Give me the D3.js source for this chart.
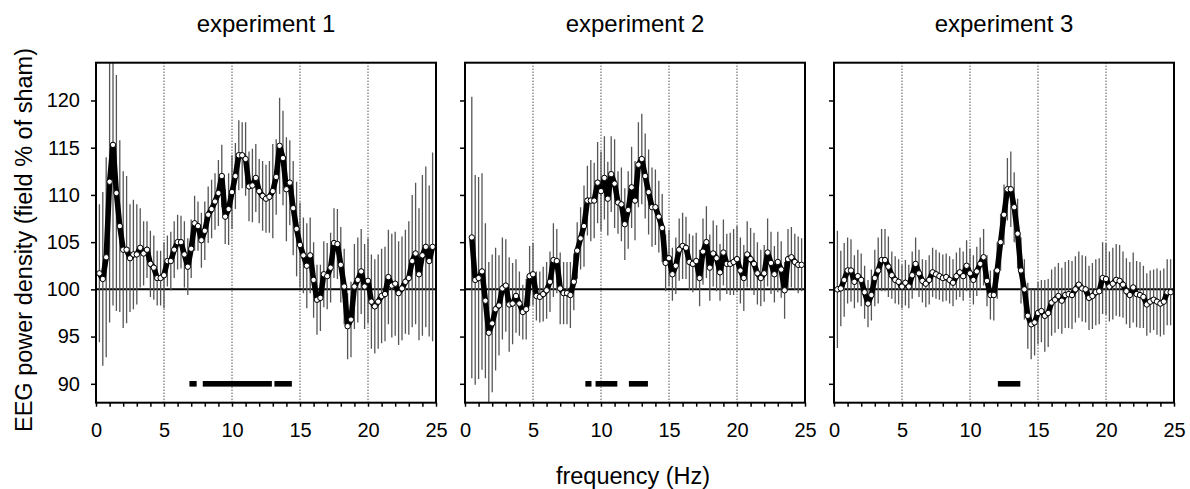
<!DOCTYPE html>
<html><head><meta charset="utf-8">
<script src="https://cdn.jsdelivr.net/npm/d3@7"></script>
<style>
body{margin:0;background:#fff}
svg{display:block}
text{font-family:"Liberation Sans",Arial,Helvetica,sans-serif;fill:#000}
</style>
</head><body>
<svg id="c" width="1190" height="489"></svg>
<script>
// frequency bins (Hz)
const freqs = [0.25,0.5,0.75,1,1.25,1.5,1.75,2,2.25,2.5,2.75,3,3.25,3.5,3.75,4,4.25,4.5,4.75,5,
5.25,5.5,5.75,6,6.25,6.5,6.75,7,7.25,7.5,7.75,8,8.25,8.5,8.75,9,9.25,9.5,9.75,10,
10.25,10.5,10.75,11,11.25,11.5,11.75,12,12.25,12.5,12.75,13,13.25,13.5,13.75,14,14.25,14.5,14.75,15,
15.25,15.5,15.75,16,16.25,16.5,16.75,17,17.25,17.5,17.75,18,18.25,18.5,18.75,19,19.25,19.5,19.75,20,
20.25,20.5,20.75,21,21.25,21.5,21.75,22,22.25,22.5,22.75,23,23.25,23.5,23.75,24,24.25,24.5,24.75];
const freqs2 = freqs.slice(1);

const exp1Mean = [101.7,101.1,103.4,111.4,115.3,110.2,106.7,104.2,104.2,103.3,103.7,103.7,104.4,103.8,104.2,102.7,102.3,101.2,101.2,101.5,
103.0,103.0,104.2,105.0,105.0,103.7,102.4,104.3,107.0,106.7,105.2,106.2,107.9,108.5,109.3,110.2,112.0,107.7,108.5,110.3,
112.0,114.2,114.2,113.8,110.9,111.0,111.8,110.4,109.9,109.6,109.8,110.4,111.9,115.2,113.9,110.6,111.3,108.6,106.4,104.7,
103.6,102.5,103.6,101.0,98.9,99.1,101.6,101.4,102.3,104.9,104.8,102.6,100.3,96.1,96.8,100.3,101.0,101.9,100.3,100.9,
98.7,98.2,98.7,99.3,99.5,101.3,100.4,100.6,99.6,100.1,100.8,101.2,103.0,103.8,101.6,103.6,104.5,103.0,104.5];
const exp1Err = [7.3,9.2,10.6,14.9,17,12.5,9.1,8.3,7.8,5.7,5.8,5.3,4.2,3.4,3.0,3.5,3.4,2.9,2.9,3.5,
2.7,3.1,3.0,2.9,2.8,3.5,3.0,3.1,2.9,2.6,2.9,3.1,3.0,3.1,3.0,3.5,3.3,2.9,3.8,3.9,
3.5,3.7,3.5,3.9,3.7,3.9,3.6,3.4,3.7,3.6,3.8,5.0,4.0,5.1,5.0,5.5,4.5,5.0,5.0,4.5,
4.0,4.5,4.0,4.0,3.7,3.5,3.5,3.5,3.7,3.7,3.7,4.0,4.0,3.5,4.0,4.5,4.5,4.5,4.5,4.5,
5.0,5.0,5.0,5.0,5.0,5.0,5.5,5.5,5.5,5.5,5.5,6.0,7.0,7.5,7.0,8.5,8.5,8.0,10.0];
const exp1Sig = [[6.87,7.4],[7.85,12.93],[13.12,14.4]];

const exp2Mean = [105.5,101.0,101.2,101.9,98.8,95.4,96.4,97.9,98.3,100.1,100.4,98.4,98.5,99.3,98.5,97.6,97.9,101.4,101.6,
99.3,99.2,99.5,99.9,100.8,103.1,103.0,100.1,99.6,99.6,99.4,100.8,104.1,105.4,106.7,109.4,109.4,109.4,111.3,110.4,
111.8,109.6,112.2,111.2,109.2,109.0,106.9,108.4,110.8,109.4,113.2,113.8,112.0,110.3,108.7,108.7,107.7,106.5,102.8,103.3,
101.6,102.5,104.2,104.6,104.4,102.9,102.7,103.0,101.2,104.0,105.0,102.3,103.8,103.3,101.8,103.9,102.7,102.7,102.9,103.2,
102.0,101.2,103.7,103.2,102.7,101.7,101.2,101.7,103.9,102.8,101.6,102.9,102.1,99.9,103.2,103.4,102.9,102.6,102.6];
const exp2Err = [14.9,11.1,10.7,10.4,8.2,7.5,7.3,6.5,5.3,5.4,4.9,5.0,4.3,3.9,3.4,2.9,3.2,3.2,3.3,
2.6,2.7,2.9,3.0,3.2,3.9,3.4,3.8,3.3,3.3,3.5,3.0,3.0,3.3,4.3,3.7,4.3,4.0,4.3,4.2,
4.4,3.9,4.0,4.7,3.3,3.9,3.8,4.1,4.3,4.2,4.5,4.8,4.5,4.5,4.2,4.0,3.8,3.6,3.0,3.0,
2.8,3.0,3.3,3.5,3.3,3.0,3.0,3.0,3.0,3.5,3.8,3.5,3.5,3.5,3.0,3.5,3.2,3.3,3.5,3.5,
3.5,3.5,3.5,3.3,3.3,3.3,3.0,3.0,3.6,3.3,3.0,3.2,3.0,3.0,3.2,3.2,3.0,3.0,2.8];
const exp2Sig = [[8.85,9.3],[9.6,11.2],[12.05,13.45]];

const exp3Mean = [100.0,100.1,101.0,102.0,102.0,100.8,101.4,101.0,99.7,98.5,99.4,101.2,102.0,103.1,103.1,102.4,101.5,101.0,100.8,100.3,
100.7,100.3,101.5,102.7,101.7,100.9,100.6,101.0,101.8,101.6,101.4,101.2,101.3,101.0,100.7,101.4,101.8,101.4,102.5,101.7,
101.0,101.9,102.7,103.4,100.9,99.4,99.4,102.0,105.0,107.9,110.6,110.6,108.7,105.9,102.0,100.0,97.2,96.3,96.5,97.5,
97.7,97.2,97.5,98.6,98.9,99.3,98.8,99.4,99.5,99.4,100.0,100.5,100.1,100.0,99.1,99.3,99.7,99.8,101.2,101.1,
100.3,100.6,101.0,100.9,100.5,99.8,99.4,100.2,99.5,99.4,99.2,98.4,98.7,98.9,98.7,98.5,98.7,99.7,99.7];
const exp3Err = [6.2,4.0,3.9,3.5,3.3,2.8,2.8,2.8,2.8,2.5,2.7,3.0,3.5,3.3,3.3,3.2,2.5,2.5,2.4,2.3,
2.4,2.3,2.5,2.8,2.5,2.3,2.5,2.6,2.6,2.6,2.5,2.5,2.5,2.5,2.5,2.5,2.6,2.6,2.7,2.6,
2.6,2.6,2.8,3.0,2.7,2.6,2.7,3.0,3.0,3.2,3.3,4.0,3.7,3.7,3.5,3.2,3.5,3.7,3.5,3.3,
3.3,3.8,3.6,3.5,3.5,3.5,3.5,3.5,3.6,3.6,3.5,3.5,3.5,3.5,3.4,3.5,3.5,3.5,3.8,3.8,
3.7,3.8,3.8,3.8,3.5,3.5,3.5,3.7,3.5,3.5,3.3,3.3,3.3,3.2,3.5,3.5,3.5,3.5,3.5];
const exp3Sig = [[12.05,13.7]];

const titles = ["experiment 1","experiment 2","experiment 3"];
const xTicks = [0,1,2,3,4,5,6,7,8,9,10,11,12,13,14,15,16,17,18,19,20,21,22,23,24,25];
const xLabels = [0,5,10,15,20,25];
const yTicks = [90,95,100,105,110,115,120];
const gridLines = [5,10,15,20];

const panels = [
  {title:titles[0], f:freqs,  m:exp1Mean, e:exp1Err, sig:exp1Sig},
  {title:titles[1], f:freqs2, m:exp2Mean, e:exp2Err, sig:exp2Sig},
  {title:titles[2], f:freqs,  m:exp3Mean, e:exp3Err, sig:exp3Sig}
];

const svg = d3.select("#c");
const plotTop = 62.7, plotBottom = 402.7, pw = 340;
const lefts = [96, 465, 834];
const y = d3.scaleLinear().domain([88,124]).range([plotBottom, plotTop]);

panels.forEach((p,i)=>{
  const x = d3.scaleLinear().domain([0,25]).range([lefts[i], lefts[i]+pw]);
  const g = svg.append("g");
  const cid = "clip"+i;
  svg.append("clipPath").attr("id",cid).append("rect")
    .attr("x",lefts[i]).attr("y",plotTop).attr("width",pw).attr("height",plotBottom-plotTop);
  const inner = g.append("g").attr("clip-path",`url(#${cid})`);

  inner.selectAll(".grid").data(gridLines).join("line")
    .attr("x1",d=>x(d)).attr("x2",d=>x(d)).attr("y1",plotTop).attr("y2",plotBottom)
    .attr("stroke","#000").attr("stroke-width",1).attr("stroke-dasharray","1,2");

  inner.append("line").attr("x1",x(0)).attr("x2",x(25)).attr("y1",y(100)).attr("y2",y(100))
    .attr("stroke","#000").attr("stroke-width",2);

  const pts = p.f.map((f,k)=>({f, m:p.m[k], e:p.e[k]}));

  inner.selectAll(".eb").data(pts).join("line")
    .attr("x1",d=>x(d.f)).attr("x2",d=>x(d.f))
    .attr("y1",d=>y(d.m+d.e)).attr("y2",d=>y(d.m-d.e))
    .attr("stroke","#555").attr("stroke-width",1.3);

  inner.selectAll(".sig").data(p.sig).join("rect")
    .attr("x",d=>x(d[0])).attr("width",d=>x(d[1])-x(d[0]))
    .attr("y",y(90)-2.8).attr("height",5.6).attr("fill","#000");

  inner.append("path").datum(pts)
    .attr("d", d3.line().x(d=>x(d.f)).y(d=>y(d.m)))
    .attr("fill","none").attr("stroke","#000").attr("stroke-width",5.5)
    .attr("stroke-linejoin","round");

  inner.selectAll(".pt").data(pts).join("circle")
    .attr("cx",d=>x(d.f)).attr("cy",d=>y(d.m)).attr("r",2.7)
    .attr("fill","#fff").attr("stroke","#000").attr("stroke-width",1);

  const xa = g.append("g").attr("transform",`translate(0,${plotBottom})`)
    .call(d3.axisBottom(x).tickValues(xTicks).tickSize(4).tickPadding(16)
      .tickFormat(d=>xLabels.includes(d)?d:""));
  xa.select(".domain").remove();
  xa.selectAll("line").attr("stroke","#000").attr("stroke-width",1.5);
  xa.selectAll("text").attr("font-size",20).attr("font-family",null);

  const ya = g.append("g").attr("transform",`translate(${lefts[i]},0)`)
    .call(d3.axisLeft(y).tickValues(yTicks).tickSize(5).tickPadding(11)
      .tickFormat(d=> i===0 ? d : ""));
  ya.select(".domain").remove();
  ya.selectAll("line").attr("stroke","#000").attr("stroke-width",1.5);
  ya.selectAll("text").attr("font-size",20).attr("font-family",null);

  g.append("rect").attr("x",lefts[i]).attr("y",plotTop).attr("width",pw).attr("height",plotBottom-plotTop)
    .attr("fill","none").attr("stroke","#000").attr("stroke-width",2);

  g.append("text").attr("x",lefts[i]+pw/2).attr("y",32).attr("text-anchor","middle")
    .attr("font-size",24).text(p.title);
});

svg.append("text").attr("transform","translate(32,240) rotate(-90)").attr("text-anchor","middle")
  .attr("font-size",23.5).text("EEG power density (field % of sham)");
svg.append("text").attr("x",633).attr("y",484).attr("text-anchor","middle")
  .attr("font-size",23.5).text("frequency (Hz)");
</script>
</body></html>
